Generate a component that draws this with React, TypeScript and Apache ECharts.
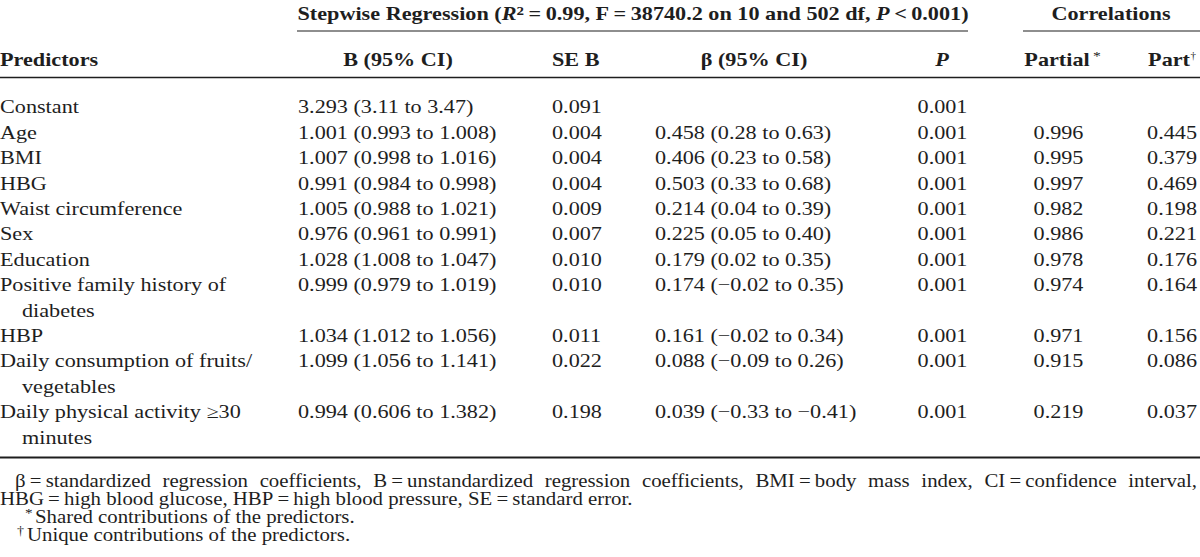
import React, { useEffect, useRef } from "react";
import * as echarts from "echarts";

// ---------- DATA ----------
const GROUP_HEADER_REG =
  "{b|Stepwise Regression (}{i|R}{sup|2}{b|\u2009=\u20090.99, F\u2009=\u200938740.2 on 10 and 502 df, }{i|P}{b|\u2009<\u20090.001)}";
const GROUP_HEADER_COR = "Correlations";

const COL_PREDICTORS = "Predictors";
const COL_B = "B (95% CI)";
const COL_SE = "SE B";
const COL_BETA = "β (95% CI)";
const COL_P = "P";
const COL_PARTIAL = "Partial";
const COL_PART = "Part";

const PREDICTORS: string[][] = [
  ["Constant"],
  ["Age"],
  ["BMI"],
  ["HBG"],
  ["Waist circumference"],
  ["Sex"],
  ["Education"],
  ["Positive family history of", "diabetes"],
  ["HBP"],
  ["Daily consumption of fruits/", "vegetables"],
  ["Daily physical activity \u226530", "minutes"],
];

const B_CI = [
  "3.293 (3.11 to 3.47)",
  "1.001 (0.993 to 1.008)",
  "1.007 (0.998 to 1.016)",
  "0.991 (0.984 to 0.998)",
  "1.005 (0.988 to 1.021)",
  "0.976 (0.961 to 0.991)",
  "1.028 (1.008 to 1.047)",
  "0.999 (0.979 to 1.019)",
  "1.034 (1.012 to 1.056)",
  "1.099 (1.056 to 1.141)",
  "0.994 (0.606 to 1.382)",
];

const SE_B = ["0.091", "0.004", "0.004", "0.004", "0.009", "0.007", "0.010", "0.010", "0.011", "0.022", "0.198"];

const BETA_CI = [
  "",
  "0.458 (0.28 to 0.63)",
  "0.406 (0.23 to 0.58)",
  "0.503 (0.33 to 0.68)",
  "0.214 (0.04 to 0.39)",
  "0.225 (0.05 to 0.40)",
  "0.179 (0.02 to 0.35)",
  "0.174 (\u22120.02 to 0.35)",
  "0.161 (\u22120.02 to 0.34)",
  "0.088 (\u22120.09 to 0.26)",
  "0.039 (\u22120.33 to \u22120.41)",
];

const P_VALUES = ["0.001", "0.001", "0.001", "0.001", "0.001", "0.001", "0.001", "0.001", "0.001", "0.001", "0.001"];

const PARTIAL = ["", "0.996", "0.995", "0.997", "0.982", "0.986", "0.978", "0.974", "0.971", "0.915", "0.219"];
const PART = ["", "0.445", "0.379", "0.469", "0.198", "0.221", "0.176", "0.164", "0.156", "0.086", "0.037"];

const FOOTNOTE_1 =
  "β\u2009=\u2009standardized regression coefficients, B\u2009=\u2009unstandardized regression coefficients, BMI\u2009=\u2009body mass index, CI\u2009=\u2009confidence interval,";
const FOOTNOTE_2 =
  "HBG\u2009=\u2009high blood glucose, HBP\u2009=\u2009high blood pressure, SE\u2009=\u2009standard error.";
const FOOTNOTE_3 = "Shared contributions of the predictors.";
const FOOTNOTE_4 = "Unique contributions of the predictors.";
const MARK_SHARED = "*";
const MARK_UNIQUE = "†";

// ---------- LAYOUT / STYLE ----------
const W = 1200;
const H = 557;
const FAMILY = "'Liberation Serif', 'Times New Roman', Times, serif";
const FS = 18.5;
const FS_NOTE = 17.8;
const SX = 1.2;
const SX_NOTE = 1.17;
const INK = "#1e1e1e";
const ROW0 = 107;
const ROW_STEP = 25.4;

function measure(s: string, size: number, weight = "normal"): number {
  const c = document.createElement("canvas").getContext("2d");
  if (!c) return s.length * size * 0.45;
  c.font = `${weight} ${size}px ${FAMILY}`;
  return c.measureText(s).width;
}

function txt(
  text: string,
  x: number,
  y: number,
  align: "left" | "center" | "right" = "left",
  opts: { size?: number; weight?: string; italic?: boolean; sx?: number } = {}
): any {
  return {
    type: "text",
    x,
    y,
    scaleX: opts.sx ?? SX,
    silent: true,
    style: {
      text,
      fill: INK,
      fontSize: opts.size ?? FS,
      fontFamily: FAMILY,
      fontWeight: opts.weight ?? "normal",
      fontStyle: opts.italic ? "italic" : "normal",
      textAlign: align,
      align,
      textVerticalAlign: "middle",
      verticalAlign: "middle",
    },
  };
}

function hline(x1: number, x2: number, y: number, lw: number): any {
  return {
    type: "line",
    silent: true,
    shape: { x1, y1: y, x2, y2: y },
    style: { stroke: INK, lineWidth: lw },
  };
}

function buildElements(): any[] {
  const els: any[] = [];
  // group headers
  els.push({
    type: "text",
    x: 633,
    y: 13.5,
    scaleX: SX,
    silent: true,
    style: {
      text: GROUP_HEADER_REG,
      fill: INK,
      fontSize: FS,
      fontFamily: FAMILY,
      fontWeight: "bold",
      textAlign: "center",
      align: "center",
      textVerticalAlign: "middle",
      verticalAlign: "middle",
      rich: {
        b: { fill: INK, fontSize: FS, fontFamily: FAMILY, fontWeight: "bold", verticalAlign: "bottom" },
        i: { fill: INK, fontSize: FS, fontFamily: FAMILY, fontWeight: "bold", fontStyle: "italic", verticalAlign: "bottom" },
        sup: { fill: INK, fontSize: 12.5, fontFamily: FAMILY, fontWeight: "bold", verticalAlign: "top" },
      },
    },
  });
  els.push(txt(GROUP_HEADER_COR, 1111, 13.5, "center", { weight: "bold" }));
  els.push(hline(297, 968, 31, 1.2));
  els.push(hline(1023, 1200, 31, 1.2));

  // column headers
  const hy = 60;
  els.push(txt(COL_PREDICTORS, 0, hy, "left", { weight: "bold" }));
  els.push(txt(COL_B, 398, hy, "center", { weight: "bold" }));
  els.push(txt(COL_SE, 552, hy, "left", { weight: "bold" }));
  els.push(txt(COL_BETA, 754, hy, "center", { weight: "bold" }));
  els.push(txt(COL_P, 942, hy, "center", { weight: "bold", italic: true }));
  els.push(txt(COL_PARTIAL, 1057, hy, "center", { weight: "bold" }));
  els.push(txt(MARK_SHARED, 1093, hy - 5, "left", { size: 13 }));
  els.push(txt(COL_PART, 1190, hy, "right", { weight: "bold" }));
  els.push(txt(MARK_UNIQUE, 1190.5, hy - 5, "left", { size: 11, sx: 1 }));
  els.push(hline(0, W, 77.5, 1.3));

  // body rows
  let line = 0;
  PREDICTORS.forEach((lines, i) => {
    const y = ROW0 + line * ROW_STEP;
    lines.forEach((l, k) => {
      els.push(txt(l, k === 0 ? 0 : 22, y + k * ROW_STEP, "left"));
    });
    els.push(txt(B_CI[i], 298, y, "left"));
    els.push(txt(SE_B[i], 552, y, "left"));
    if (BETA_CI[i]) els.push(txt(BETA_CI[i], 655, y, "left"));
    els.push(txt(P_VALUES[i], 942.5, y, "center"));
    if (PARTIAL[i]) els.push(txt(PARTIAL[i], 1058.5, y, "center"));
    if (PART[i]) els.push(txt(PART[i], 1197, y, "right"));
    line += lines.length;
  });

  els.push(hline(0, W, 457.5, 2.2));

  // footnote 1: justified between 15 and the right edge
  const words = FOOTNOTE_1.split(" ");
  const widths = words.map((w) => measure(w, FS_NOTE) * SX_NOTE);
  const total = widths.reduce((a, b) => a + b, 0);
  const left = 15;
  const gap = (W - 3 - left - total) / (words.length - 1);
  let cx = left;
  words.forEach((w, k) => {
    els.push(txt(w, cx, 481.5, "left", { size: FS_NOTE, sx: SX_NOTE }));
    cx += widths[k] + gap;
  });
  els.push(txt(FOOTNOTE_2, 0, 499.5, "left", { size: FS_NOTE, sx: SX_NOTE }));
  els.push(txt(MARK_SHARED, 25, 512.5, "left", { size: 13, sx: SX_NOTE }));
  els.push(txt(FOOTNOTE_3, 35, 517.5, "left", { size: FS_NOTE, sx: SX_NOTE }));
  els.push(txt(MARK_UNIQUE, 17, 531, "left", { size: 12, sx: SX_NOTE }));
  els.push(txt(FOOTNOTE_4, 27, 535.5, "left", { size: FS_NOTE, sx: SX_NOTE }));
  return els;
}

export default function App() {
  const ref = useRef<HTMLDivElement>(null);
  useEffect(() => {
    if (!ref.current) return;
    const chart = echarts.init(ref.current, undefined, { renderer: "svg", width: W, height: H });
    chart.setOption({
      animation: false,
      backgroundColor: "#ffffff",
      graphic: { elements: buildElements() },
    });
    return () => chart.dispose();
  }, []);
  return (
    <div
      ref={ref}
      style={{ position: "fixed", left: 0, top: 0, width: W, height: H, background: "#fff" }}
    />
  );
}
